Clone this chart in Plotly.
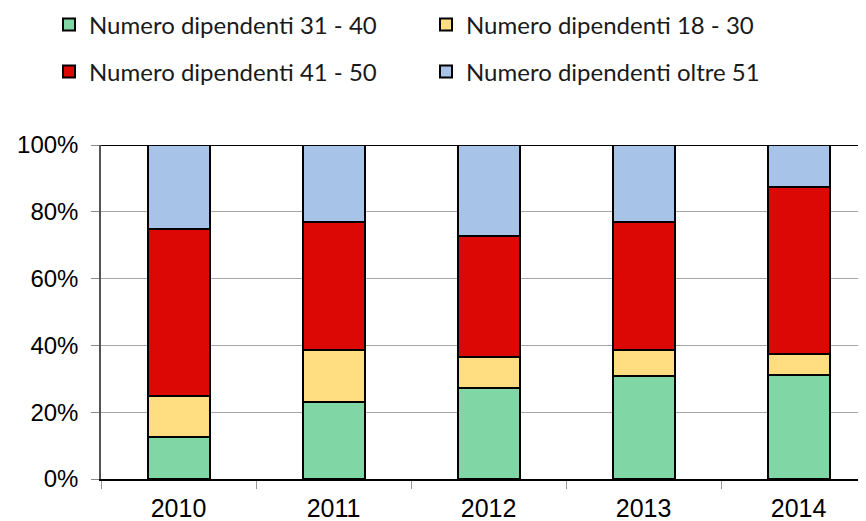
import plotly.graph_objects as go

years = ["2010", "2011", "2012", "2013", "2014"]
series_names = [
    "Numero dipendenti 31 - 40",
    "Numero dipendenti 18 - 30",
    "Numero dipendenti 41 - 50",
    "Numero dipendenti oltre 51",
]
dip_31_40 = [12.5, 23.1, 27.3, 30.8, 31.25]
dip_18_30 = [12.5, 15.4, 9.1, 7.7, 6.25]
dip_41_50 = [50.0, 38.5, 36.4, 38.5, 50.0]
dip_oltre_51 = [25.0, 23.1, 27.3, 23.1, 12.5]
y_ticks = [0, 20, 40, 60, 80, 100]
y_tick_labels = ["0%", "20%", "40%", "60%", "80%", "100%"]

colors = ["#80D6A4", "#FFDD80", "#DC0805", "#A7C4E8"]
legend_ids = ["legend", "legend", "legend2", "legend2"]
values = [dip_31_40, dip_18_30, dip_41_50, dip_oltre_51]

fig = go.Figure()
for name, vals, col, lg in zip(series_names, values, colors, legend_ids):
    fig.add_trace(go.Bar(
        x=years, y=vals, name=name, width=0.4,
        marker=dict(color=col, line=dict(color="#000000", width=2)),
        legend=lg,
    ))

# page has an 8px body margin: work in figure coordinates (page - 8)
OFF = 8
W, H = 866 - OFF, 521 - OFF
L, R, T = 101 - OFF, 0, 145 - OFF
B = H - (479 - OFF)
pw = W - L - R
ph = H - T - B

def px_x(p):
    return (p - OFF - L) / pw

def px_y(p):
    return (H - B - (p - OFF)) / ph

legend_font = dict(family="Lato, Carlito, Calibri, sans-serif", size=24, color="#1a1a1a")
common_leg = dict(orientation="h", xanchor="left", yanchor="middle",
                  font=legend_font, entrywidth=332, entrywidthmode="pixels",
                  bgcolor="rgba(0,0,0,0)", traceorder="normal")

fig.update_layout(
    width=W, height=H,
    margin=dict(l=L, r=R, t=T, b=B, pad=0, autoexpand=False),
    paper_bgcolor="white", plot_bgcolor="white",
    barmode="stack", bargap=0.6,
    showlegend=True,
    legend=dict(x=px_x(49), y=px_y(25), **common_leg),
    legend2=dict(x=px_x(49), y=px_y(72), **common_leg),
    xaxis=dict(
        type="category", range=[-0.5, 4.435],
        showline=True, linecolor="#000000", linewidth=2,
        ticks="outside", ticklen=8, tickcolor="#999999", tickwidth=1,
        tickson="boundaries", showgrid=False,
        tickfont=dict(family="Liberation Sans, Arial, sans-serif", size=25, color="#000000"),
        ticklabelstandoff=6,
    ),
    yaxis=dict(
        range=[0, 100], tickvals=y_ticks, ticktext=y_tick_labels,
        showline=True, linecolor="#555555", linewidth=1.5,
        ticks="outside", ticklen=8, tickcolor="#888888", tickwidth=1,
        showgrid=True, gridcolor="#A6A6A6", gridwidth=1,
        zeroline=False,
        tickfont=dict(family="Liberation Sans, Arial, sans-serif", size=24, color="#000000"),
        ticklabelstandoff=8,
    ),
    shapes=[dict(type="line", xref="paper", yref="y", x0=0, x1=1, y0=100, y1=100,
                 line=dict(color="#000000", width=2), layer="above")],
)

fig.write_html("out.html")
